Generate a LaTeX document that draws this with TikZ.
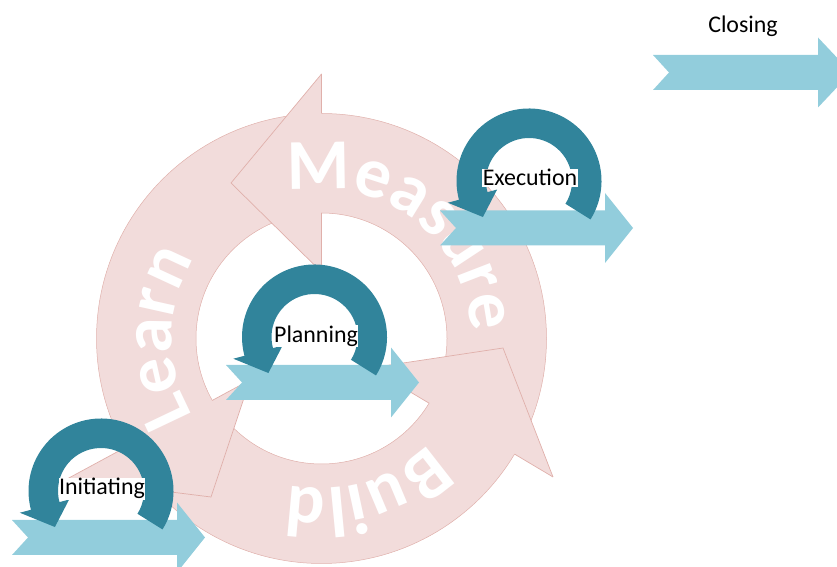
\documentclass[tikz,border=0pt]{standalone}
\usepackage{fontspec}
\setmainfont{Carlito}
\newfontfamily\ringfont{Carlito}
\usetikzlibrary{decorations.text}
\definecolor{ringpink}{HTML}{F2DCDB}
\definecolor{ringedge}{RGB}{224,176,171}
\definecolor{bandblue}{HTML}{92CDDC}
\definecolor{loopteal}{HTML}{31849B}
\newcommand{\ringtext}{\ringfont\bfseries\fontsize{72}{72}\selectfont}
% notched block arrow: start x, centre y, head start x, tip x
\newcommand{\bluearrow}[4]{%
  \fill[bandblue] (#1,{#2+17.5}) -- (#3,{#2+17.5}) -- (#3,{#2+35}) -- (#4,#2)
    -- (#3,{#2-35}) -- (#3,{#2-17.5}) -- (#1,{#2-17.5}) -- ({#1+16},#2) -- cycle;}
\tikzset{
  edge/.style={draw=ringedge, line width=0.7bp},
  tag/.style={font=\fontsize{24}{28}\selectfont, fill=white, inner sep=0.6bp, text=black},
  pics/cycarrow/.style={code={
    \fill[loopteal] (-32:72.5) arc[start angle=-32, end angle=195, radius=72.5]
      -- (195:84) -- (218:58.5) -- (195:33) -- (195:43)
      arc[start angle=195, end angle=-32, radius=43] -- cycle;
  }}
}
\begin{document}
\begin{tikzpicture}[x=1bp,y=1bp]
\useasboundingbox (0,0) rectangle (837,567);
\clip (0,0) rectangle (837,567);

% ring centre and the three arrow heads (outer barb, tip, inner barb)
\coordinate (C) at (321.5,228.5);
\coordinate (mO) at (321.5,493); \coordinate (mT) at (231,384); \coordinate (mI) at (321.5,295);
\coordinate (bO) at (553,90);    \coordinate (bT) at (503,219); \coordinate (bI) at (370,199);
\coordinate (lO) at (67,88);     \coordinate (lT) at (211,70);  \coordinate (lI) at (250,187);

% Build-Measure-Learn cycle
\fill[ringpink, even odd rule] (C) circle[radius=225] (C) circle[radius=125.5];
\fill[ringpink] (mO) -- (mT) -- (mI) -- cycle;
\fill[ringpink] (bO) -- (bT) -- (bI) -- cycle;
\fill[ringpink] (lO) -- (lT) -- (lI) -- cycle;
\begin{scope}[even odd rule]
  \clip (-10,-10) rectangle (860,600)
    (mO) -- (mT) -- (mI) -- cycle
    (bO) -- (bT) -- (bI) -- cycle
    (lO) -- (lT) -- (lI) -- cycle;
  \draw[edge, line width=0.5bp] (C) circle[radius=225] (C) circle[radius=125.5];
\end{scope}
\begin{scope}[even odd rule]
  \clip (-10,-10) rectangle (860,600)
    (C) circle[radius=225] (C) circle[radius=125.5];
  \draw[edge] (mO) -- (mI) (bO) -- (bI) (lO) -- (lI);
\end{scope}
\draw[edge] (mO) -- (mT) -- (mI) (bO) -- (bT) -- (bI) (lO) -- (lT) -- (lI);

% words running clockwise round the ring
\begin{scope}[shift={(321.5,228.5)}]
  \path[decorate, decoration={text along path, text={|\ringtext|Measure},
      text align=center, text color=white}]
    (132.7:150) arc[start angle=132.7, end angle=-27.3, radius=150];
  \path[decorate, decoration={text along path, text={|\ringtext|Learn},
      text align=center, text color=white}]
    (259.5:150) arc[start angle=259.5, end angle=99.5, radius=150];
  \path[decorate, decoration={text along path, text={|\ringtext|Build},
      text align=center, text color=white}]
    (366.5:150) arc[start angle=366.5, end angle=206.5, radius=150];
\end{scope}

% phase arrows
\bluearrow{12}{29.5}{177}{205}
\bluearrow{226}{184.5}{391}{419}
\bluearrow{440}{339}{605}{633}
\bluearrow{653}{494.5}{818}{851}

% iteration loops
\pic at (101,76) {cycarrow};
\pic at (314.5,230) {cycarrow};
\pic at (529,386) {cycarrow};

% phase names
\node[tag, anchor=base] (initiating) at (102,72) {Initiating};
\node[tag, anchor=base] (planning) at (316,224.3) {Planning};
\node[tag, anchor=base] (execution) at (530,381) {Execution};
\node[tag, anchor=base] (closing) at (743,534.7) {Closing};
\end{tikzpicture}
\end{document}
